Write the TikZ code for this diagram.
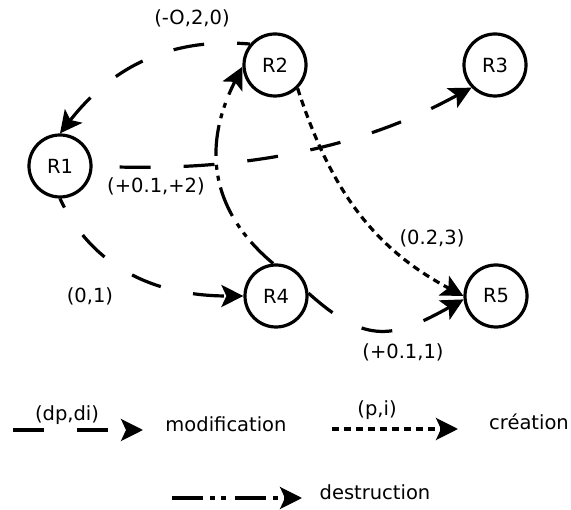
\documentclass[tikz,border=0pt]{standalone}
\usepackage{fontspec}
\setmainfont{DejaVu Sans}
\usetikzlibrary{arrows.meta}

\begin{document}
\begin{tikzpicture}[>= {Stealth[length=22pt, width=22pt, inset=5pt]}, line width =3.2 pt,
			node distance=220 pt, x=1pt, y=1pt, font=\fontsize{19.5}{23}\selectfont,
			res/.style={draw, circle, minimum size=62pt, inner sep=0pt},
			modif/.style={->, dash pattern=on 31pt off 33pt},
			creat/.style={->, dash pattern=on 7pt off 5pt},
			destr/.style={->, dash pattern=on 31pt off 7pt on 5pt off 6pt on 5pt off 9pt}]
		\useasboundingbox (0, 0) rectangle (571, -510);
		\node[res] (R1) at (60, -166) {R1};
		\node[res] (R2) at (275, -65) {R2};
		\node[res, right of=R2] (R3) {R3};
		\node[res] (R4) at (276, -296) {R4};
		\node[res, right of=R4] (R5) {R5};

		\node (l21) at (192, -18) {(-O,2,0)};
		\node (l13) at (156, -186) {(+0.1,+2)};
		\node (l14) at (90, -296) {(0,1)};
		\node (l25) at (432, -238) {(0.2,3)};
		\node (l45) at (403, -352) {(+0.1,1)};

		\draw[modif, dash phase=18pt] (R2.140) to[out=175, in=52] (R1.north);
		\draw[modif, dash phase=37pt] (R1.east) to[out=-3, in=208, out looseness=1.4, in looseness=0.4] (R3.224);
		\draw[modif, dash phase=21pt] (R1.south) to[out=-65, in=180] (R4.west);
		\draw[destr] (R4.95) to[out=140, in=243, looseness=1.1] (R2.183);
		\draw[creat] (R2.-46) to[out=-72, in=152] (R5.west);
		\draw[modif] (R4.5) to[out=-42, in=209, looseness=1.3] (R5.186);

		\coordinate (m0) at (13, -430);
		\coordinate (m1) at (143, -430);
		\coordinate (c0) at (332, -429);
		\coordinate (c1) at (458, -429);
		\coordinate (d0) at (172, -498);
		\coordinate (d1) at (302, -498);
		\node (kmod) at (67, -415) {(dp,di)};
		\node (tmod) at (226, -424) {modification};
		\node (kcre) at (377, -410) {(p,i)};
		\node (tcre) at (529, -422) {création};
		\node (tdes) at (375, -492) {destruction};

		\draw[modif] (m0) -- (m1);
		\draw[creat] (c0) -- (c1);
		\draw[destr] (d0) -- (d1);
	\end{tikzpicture}
\end{document}
